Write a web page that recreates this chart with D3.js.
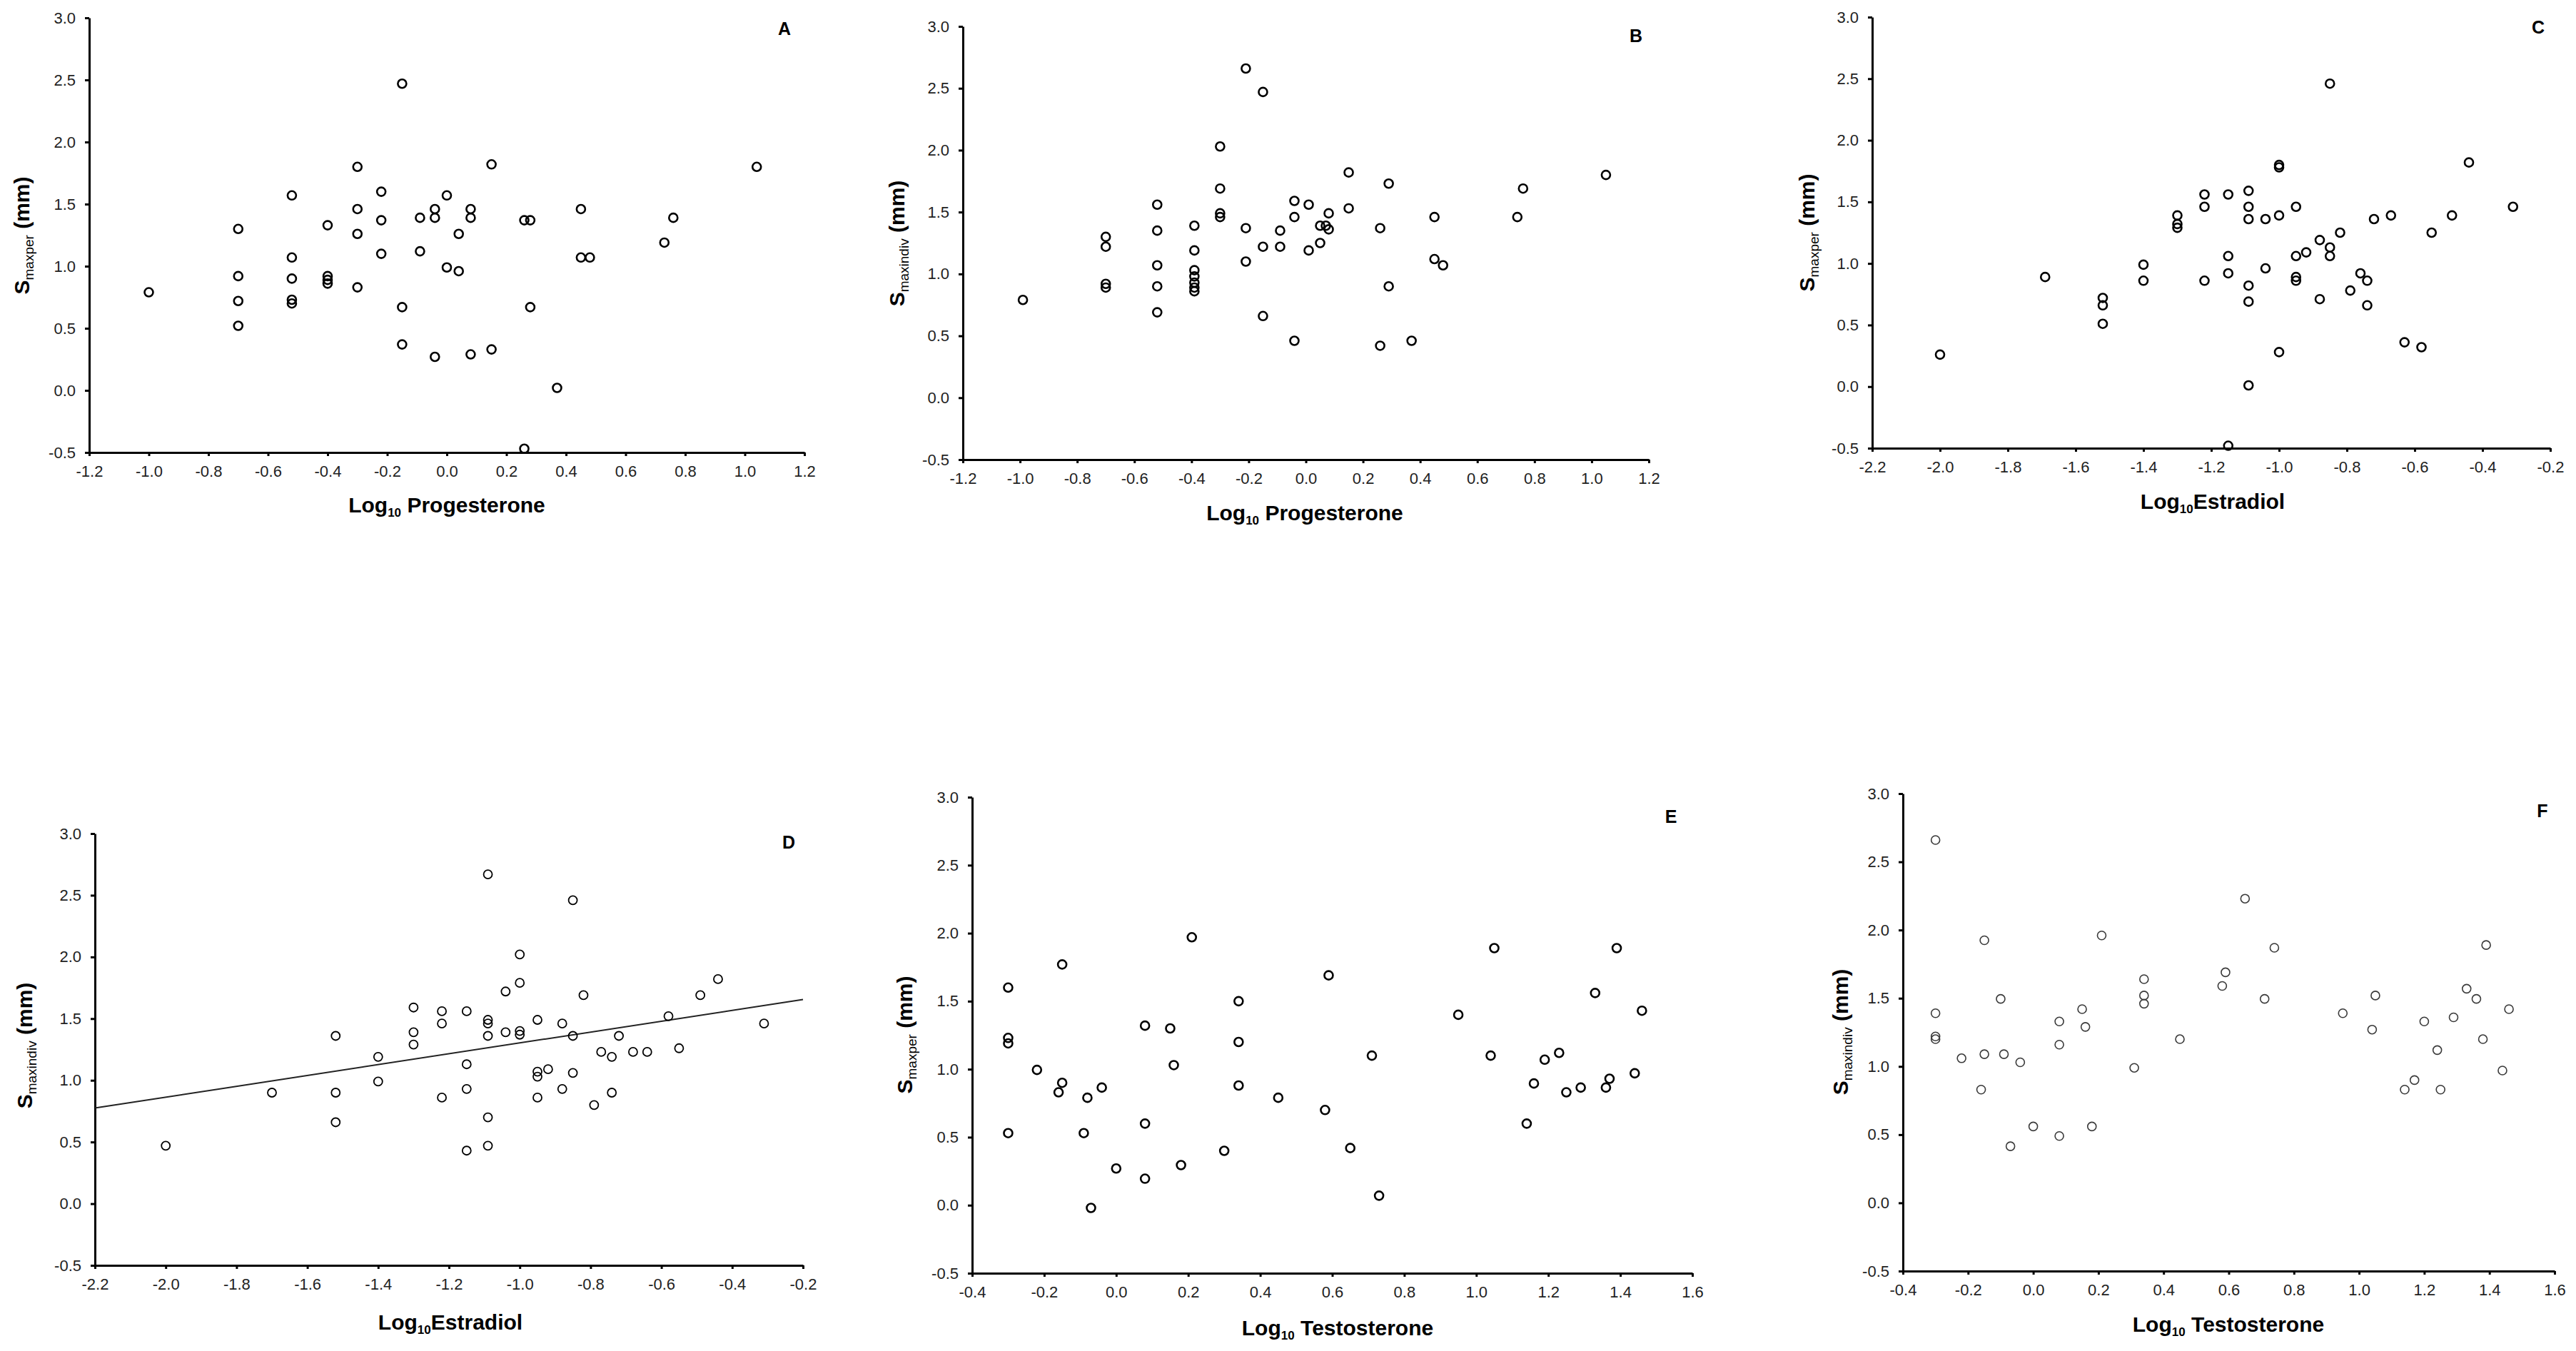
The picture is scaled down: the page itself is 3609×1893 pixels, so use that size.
<!DOCTYPE html>
<html>
<head>
<meta charset="utf-8">
<script src="https://cdn.jsdelivr.net/npm/d3@7"></script>
<style>
body{margin:0;background:#fff}
svg{display:block}
text{font-family:"Liberation Sans",Arial,sans-serif}
</style>
</head>
<body>
<svg id="chart" width="3609" height="1893"></svg>
<script>
// values, [log10 hormone, S]
var progMaxper = [[-1.0,0.79],[-0.70,1.30],[-0.70,0.92],[-0.70,0.72],[-0.70,0.52],
  [-0.52,1.57],[-0.52,1.07],[-0.52,0.90],[-0.52,0.73],[-0.52,0.70],
  [-0.40,1.33],[-0.40,0.92],[-0.40,0.89],[-0.40,0.86],
  [-0.30,1.80],[-0.30,1.46],[-0.30,1.26],[-0.30,0.83],
  [-0.22,1.60],[-0.22,1.37],[-0.22,1.10],
  [-0.15,2.47],[-0.15,0.67],[-0.15,0.37],
  [-0.09,1.39],[-0.09,1.12],
  [-0.04,1.46],[-0.04,1.39],[-0.04,0.27],
  [0.0,1.57],[0.0,0.99],[0.04,1.26],[0.04,0.96],
  [0.08,1.46],[0.08,1.39],[0.08,0.29],
  [0.15,1.82],[0.15,0.33],
  [0.26,1.37],[0.28,1.37],[0.28,0.67],[0.26,-0.47],
  [0.37,0.02],[0.45,1.46],[0.45,1.07],[0.48,1.07],
  [0.73,1.19],[0.76,1.39],[1.04,1.80]];

var progMaxindiv = [[-0.99,0.79],[-0.70,1.30],[-0.70,1.22],[-0.70,0.92],[-0.70,0.89],
  [-0.52,1.56],[-0.52,1.35],[-0.52,1.07],[-0.52,0.90],[-0.52,0.69],
  [-0.39,1.39],[-0.39,1.19],[-0.39,1.03],[-0.39,0.98],[-0.39,0.93],[-0.39,0.89],[-0.39,0.86],
  [-0.30,2.03],[-0.30,1.69],[-0.30,1.49],[-0.30,1.46],
  [-0.21,2.66],[-0.21,1.37],[-0.21,1.10],
  [-0.15,2.47],[-0.15,1.22],[-0.15,0.66],
  [-0.09,1.35],[-0.09,1.22],
  [-0.04,1.59],[-0.04,1.46],[-0.04,0.46],
  [0.01,1.56],[0.01,1.19],[0.05,1.39],[0.05,1.25],
  [0.07,1.39],[0.08,1.49],[0.08,1.36],
  [0.15,1.82],[0.15,1.53],
  [0.26,1.37],[0.26,0.42],[0.29,1.73],[0.29,0.90],
  [0.37,0.46],[0.45,1.46],[0.45,1.12],[0.48,1.07],
  [0.74,1.46],[0.76,1.69],[1.05,1.80]];

var estMaxper = [[-2.0,0.26],[-1.69,0.89],[-1.52,0.72],[-1.52,0.66],[-1.52,0.51],
  [-1.40,0.99],[-1.40,0.86],
  [-1.30,1.39],[-1.30,1.32],[-1.30,1.29],
  [-1.22,1.56],[-1.22,1.46],[-1.22,0.86],
  [-1.15,1.56],[-1.15,1.06],[-1.15,0.92],[-1.15,-0.48],
  [-1.09,1.59],[-1.09,1.46],[-1.09,1.36],[-1.09,0.82],[-1.09,0.69],[-1.09,0.01],
  [-1.04,1.36],[-1.04,0.96],
  [-1.0,1.80],[-1.0,1.78],[-1.0,1.39],[-1.0,0.28],
  [-0.95,1.46],[-0.95,1.06],[-0.95,0.89],[-0.95,0.86],
  [-0.92,1.09],[-0.88,1.19],[-0.88,0.71],
  [-0.85,2.46],[-0.85,1.13],[-0.85,1.06],
  [-0.82,1.25],[-0.79,0.78],[-0.76,0.92],[-0.74,0.86],[-0.74,0.66],
  [-0.72,1.36],[-0.67,1.39],[-0.63,0.36],[-0.58,0.32],[-0.55,1.25],
  [-0.49,1.39],[-0.44,1.82],[-0.31,1.46]];

var estMaxindiv = [[-2.0,0.47],[-1.70,0.90],[-1.52,1.36],[-1.52,0.90],[-1.52,0.66],
  [-1.40,1.19],[-1.40,0.99],
  [-1.30,1.59],[-1.30,1.39],[-1.30,1.29],
  [-1.22,1.56],[-1.22,1.46],[-1.22,0.86],
  [-1.15,1.56],[-1.15,1.13],[-1.15,0.93],[-1.15,0.43],
  [-1.09,2.67],[-1.09,1.49],[-1.09,1.46],[-1.09,1.36],[-1.09,0.70],[-1.09,0.47],
  [-1.04,1.72],[-1.04,1.39],
  [-1.0,2.02],[-1.0,1.79],[-1.0,1.40],[-1.0,1.37],
  [-0.95,1.49],[-0.95,1.07],[-0.95,1.03],[-0.95,0.86],
  [-0.92,1.09],[-0.88,1.46],[-0.88,0.93],
  [-0.85,2.46],[-0.85,1.36],[-0.85,1.06],
  [-0.82,1.69],[-0.79,0.80],[-0.77,1.23],[-0.74,1.19],[-0.74,0.90],
  [-0.72,1.36],[-0.68,1.23],[-0.64,1.23],[-0.58,1.52],[-0.55,1.26],
  [-0.49,1.69],[-0.44,1.82],[-0.31,1.46]];

// fitted line in panel D (end points)
var estFitX = [-2.2, -0.2];
var estFitY = [0.775, 1.655];

var testMaxper = [[-0.30,1.60],[-0.30,1.23],[-0.30,1.19],[-0.30,0.53],
  [-0.22,0.995],[-0.16,0.83],[-0.15,1.77],[-0.15,0.90],
  [-0.09,0.53],[-0.08,0.79],[-0.07,-0.02],[-0.04,0.865],
  [0.0,0.27],[0.08,1.32],[0.08,0.60],[0.08,0.195],
  [0.15,1.30],[0.16,1.03],[0.18,0.295],[0.21,1.97],
  [0.30,0.40],[0.34,1.50],[0.34,1.20],[0.34,0.88],
  [0.45,0.79],[0.58,0.70],[0.59,1.69],[0.65,0.42],[0.71,1.10],[0.73,0.07],
  [0.95,1.40],[1.04,1.10],[1.05,1.89],[1.14,0.60],[1.16,0.895],[1.19,1.07],
  [1.23,1.12],[1.25,0.83],[1.29,0.865],[1.33,1.56],[1.36,0.865],[1.37,0.93],
  [1.39,1.89],[1.44,0.97],[1.46,1.43]];

var testMaxindiv = [[-0.30,2.66],[-0.30,1.39],[-0.30,1.22],[-0.30,1.20],
  [-0.22,1.06],[-0.16,0.83],[-0.15,1.925],[-0.15,1.09],
  [-0.10,1.495],[-0.09,1.09],[-0.07,0.415],[-0.04,1.03],
  [0.0,0.56],[0.08,1.33],[0.08,1.16],[0.08,0.49],
  [0.15,1.42],[0.16,1.29],[0.18,0.56],[0.21,1.96],
  [0.31,0.99],[0.34,1.64],[0.34,1.52],[0.34,1.46],
  [0.45,1.20],[0.58,1.59],[0.59,1.69],[0.65,2.23],[0.71,1.495],[0.74,1.87],
  [0.95,1.39],[1.04,1.27],[1.05,1.52],[1.14,0.83],[1.17,0.90],[1.20,1.33],
  [1.24,1.12],[1.25,0.83],[1.29,1.36],[1.33,1.57],[1.36,1.495],[1.38,1.20],
  [1.39,1.89],[1.44,0.97],[1.46,1.42]];

// tick labels
var yTicks = [-0.5, 0.0, 0.5, 1.0, 1.5, 2.0, 2.5, 3.0];
var progTicks = [-1.2,-1.0,-0.8,-0.6,-0.4,-0.2,0.0,0.2,0.4,0.6,0.8,1.0,1.2];
var estTicks = [-2.2,-2.0,-1.8,-1.6,-1.4,-1.2,-1.0,-0.8,-0.6,-0.4,-0.2];
var testTicks = [-0.4,-0.2,0.0,0.2,0.4,0.6,0.8,1.0,1.2,1.4,1.6];

var panels = [
  {letter:"A", data:progMaxper, ticks:progTicks, sub:"maxper", hormone:" Progesterone",
   l:125, r:1127, t:25, b:634, lx:1099, ly:40, tx:30, ty:330, xx:626, xy:718, mark:"bold"},
  {letter:"B", data:progMaxindiv, ticks:progTicks, sub:"maxindiv", hormone:" Progesterone",
   l:1349, r:2310, t:37, b:644, lx:2292, ly:50, tx:1256, ty:341, xx:1828, xy:729, mark:"bold"},
  {letter:"C", data:estMaxper, ticks:estTicks, sub:"maxper", hormone:"Estradiol",
   l:2623, r:3573, t:24, b:628, lx:3556, ly:38, tx:2531, ty:326, xx:3100, xy:713, mark:"bold"},
  {letter:"D", data:estMaxindiv, ticks:estTicks, sub:"maxindiv", hormone:"Estradiol",
   l:133, r:1125, t:1168, b:1773, lx:1105, ly:1180, tx:34, ty:1465, xx:631, xy:1863, mark:"thin", fit:true},
  {letter:"E", data:testMaxper, ticks:testTicks, sub:"maxper", hormone:" Testosterone",
   l:1362, r:2371, t:1117, b:1784, lx:2341, ly:1144, tx:1267, ty:1450, xx:1874, xy:1871, mark:"bold"},
  {letter:"F", data:testMaxindiv, ticks:testTicks, sub:"maxindiv", hormone:" Testosterone",
   l:2666, r:3579, t:1112, b:1781, lx:3562, ly:1136, tx:2578, ty:1446, xx:3122, xy:1866, mark:"grey"}
];

var svg = d3.select("#chart");
svg.append("rect").attr("width",3609).attr("height",1893).attr("fill","#fff");

var fmt = function(d){ return d.toFixed(1); };

panels.forEach(function(p){
  var x = d3.scaleLinear().domain([p.ticks[0], p.ticks[p.ticks.length-1]]).range([p.l, p.r]);
  var y = d3.scaleLinear().domain([yTicks[0], yTicks[yTicks.length-1]]).range([p.b, p.t]);
  var g = svg.append("g");

  var xa = g.append("g").attr("transform","translate(0,"+p.b+")")
    .call(d3.axisBottom(x).tickValues(p.ticks).tickFormat(fmt).tickSize(5).tickSizeOuter(0).tickPadding(13));
  var ya = g.append("g").attr("transform","translate("+p.l+",0)")
    .call(d3.axisLeft(y).tickValues(yTicks).tickFormat(fmt).tickSize(6).tickSizeOuter(0).tickPadding(13));
  [xa, ya].forEach(function(a){
    a.select(".domain").attr("stroke","#000").attr("stroke-width",3);
    a.selectAll(".tick line").attr("stroke","#000").attr("stroke-width",3);
    a.selectAll(".tick text").attr("font-size",22).attr("fill","#222")
      .attr("font-family","'Liberation Sans',Arial,sans-serif");
  });

  if (p.fit) {
    g.append("line")
      .attr("x1", x(estFitX[0])).attr("y1", y(estFitY[0]))
      .attr("x2", x(estFitX[1])).attr("y2", y(estFitY[1]))
      .attr("stroke","#222").attr("stroke-width",2);
  }

  var sw = p.mark=="bold" ? 2.6 : (p.mark=="thin" ? 1.8 : 1.6);
  var col = p.mark=="grey" ? "#3a3a3a" : "#000";
  g.selectAll("circle").data(p.data).enter().append("circle")
    .attr("cx", function(d){ return x(d[0]); })
    .attr("cy", function(d){ return y(d[1]); })
    .attr("r", 6)
    .attr("fill","none").attr("stroke",col).attr("stroke-width",sw);

  // panel letter
  g.append("text").attr("x",p.lx).attr("y",p.ly+9).attr("text-anchor","middle")
    .attr("font-size",25).attr("font-weight","bold").text(p.letter);

  // y title: S_sub (mm)
  var yt = g.append("text").attr("text-anchor","middle")
    .attr("transform","translate("+(p.tx+11)+","+p.ty+") rotate(-90)")
    .attr("font-size",30).attr("font-weight","bold");
  yt.append("tspan").text("S");
  yt.append("tspan").attr("font-size",19).attr("font-weight","normal").attr("dy",6).text(p.sub);
  yt.append("tspan").attr("dy",-6).text(" (mm)");

  // x title: Log10 hormone
  var xt = g.append("text").attr("text-anchor","middle").attr("x",p.xx).attr("y",p.xy)
    .attr("font-size",30).attr("font-weight","bold");
  xt.append("tspan").text("Log");
  xt.append("tspan").attr("font-size",17).attr("dy",6).text("10");
  xt.append("tspan").attr("dy",-6).text(p.hormone);
});
</script>
</body>
</html>
